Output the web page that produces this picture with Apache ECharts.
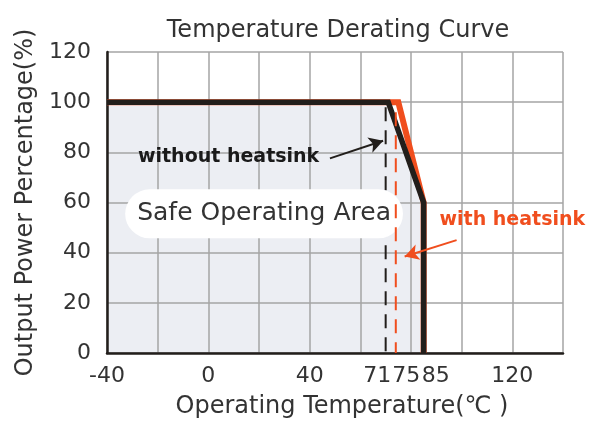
<!DOCTYPE html>
<html>
<head>
<meta charset="utf-8">
<script src="https://cdn.jsdelivr.net/npm/echarts@6/dist/echarts.min.js"></script>
<style>
html,body{margin:0;padding:0;background:#fff;}
#c{width:591px;height:424px;}
</style>
</head>
<body>
<div id="c"></div>
<script>
// ---- data ----
const titleText = 'Temperature Derating Curve';
const xName = 'Operating Temperature(℃ )';
const yName = 'Output Power Percentage(%)';
const xTickLabels = [-40, 0, 40, 71, 75, 85, 120];
const withoutHeatsink = [[-40, 100], [71, 100], [85, 60], [85, 0]];
const withHeatsink = [[-40, 100], [75, 100], [85, 60], [85, 0]];
const markWithout = [[70, 98], [70, 0]];
const markWith = [[74, 96], [74, 0]];
const safeLabelPos = [22, 55.5];
const withoutLabelPos = [8, 78.3];
const withLabelPos = [120, 52.8];
const arrowWithout = [[48, 77.6], [69, 84.6]];
const arrowWith = [[98, 45], [77.5, 38.5]];

const FONT = 'DejaVu Sans';
const ORANGE = '#f04e1e';
const BLACK = '#221e1b';

const shiftRich = {
  a: {fontSize: 22, fontFamily: FONT, color: '#333', padding: [0, 22, 0, 0]},
  b: {fontSize: 22, fontFamily: FONT, color: '#333', padding: [0, 0, 0, 16]},
  c: {fontSize: 22, fontFamily: FONT, color: '#333', padding: [0, 0, 0, 24]},
  n: {fontSize: 22, fontFamily: FONT, color: '#333'}
};
const shiftKey = {71: 'a', 75: 'b', 85: 'c'};

const chart = echarts.init(document.getElementById('c'), null, {renderer: 'canvas'});
chart.setOption({
  animation: false,
  backgroundColor: '#fff',
  title: {
    text: titleText, left: 333, top: 14, textAlign: 'center',
    textStyle: {fontFamily: FONT, fontSize: 24, fontWeight: 'normal', color: '#333'}
  },
  grid: {left: 107, right: 28, top: 52, bottom: 67},
  xAxis: [{
    type: 'value', min: -40, max: 140, interval: 20,
    name: xName, nameLocation: 'middle', nameGap: 42,
    nameTextStyle: {fontFamily: FONT, fontSize: 24, color: '#333', padding: [0, 0, 0, 14]},
    axisLabel: {show: false}, axisTick: {show: false},
    axisLine: {show: true, onZero: false, lineStyle: {color: BLACK, width: 2.5}},
    splitLine: {show: true, lineStyle: {color: '#a5a5a5', width: 1.5}}
  }, {
    type: 'value', position: 'bottom', min: -40, max: 140,
    axisLine: {show: false}, axisTick: {show: false}, splitLine: {show: false},
    axisLabel: {
      customValues: xTickLabels, margin: 12, hideOverlap: false,
      fontFamily: FONT, fontSize: 22, color: '#333',
      formatter: v => '{' + (shiftKey[v] || 'n') + '|' + v + '}',
      rich: shiftRich
    }
  }],
  yAxis: {
    type: 'value', min: 0, max: 120, interval: 20,
    name: yName, nameLocation: 'middle', nameGap: 66,
    nameTextStyle: {fontFamily: FONT, fontSize: 24, color: '#333'},
    axisTick: {show: false},
    axisLine: {show: true, onZero: false, lineStyle: {color: BLACK, width: 2.5}},
    axisLabel: {fontFamily: FONT, fontSize: 22, color: '#333', margin: 16},
    splitLine: {show: true, lineStyle: {color: '#a5a5a5', width: 1.5}}
  },
  series: [
    { // safe operating area fill
      type: 'line', xAxisIndex: 0, data: withoutHeatsink, z: -1, silent: true,
      symbol: 'none', lineStyle: {width: 0}, areaStyle: {color: '#eceef3', opacity: 1}
    },
    { // with heatsink curve
      type: 'line', xAxisIndex: 0, data: withHeatsink, z: 3, symbol: 'none',
      lineStyle: {color: ORANGE, width: 6, join: 'miter'}
    },
    { // without heatsink marker (dashed)
      type: 'line', xAxisIndex: 0, data: markWithout, z: 3, symbol: 'none',
      lineStyle: {color: BLACK, width: 2, type: [14, 9]}
    },
    { // without heatsink curve
      type: 'line', xAxisIndex: 0, data: withoutHeatsink, z: 4, symbol: 'none',
      lineStyle: {color: BLACK, width: 5.5, join: 'miter'},
      markLine: {
        silent: true, symbol: ['none', 'arrow'], symbolSize: [12, 14],
        label: {show: false},
        lineStyle: {color: BLACK, width: 2, type: 'solid'},
        data: [[{coord: arrowWithout[0]}, {coord: arrowWithout[1]}]]
      },
      markPoint: {
        silent: true, symbol: 'circle', symbolSize: 1, itemStyle: {color: 'rgba(0,0,0,0)'},
        data: [
          {coord: safeLabelPos, label: {show: true, position: 'inside', formatter: 'Safe Operating Area',
            fontFamily: FONT, fontSize: 25, color: '#333', backgroundColor: '#fff',
            borderRadius: 26, padding: [12, 12, 12, 12]}},
          {coord: withoutLabelPos, label: {show: true, position: 'inside', formatter: 'without heatsink',
            fontFamily: FONT, fontSize: 19, fontWeight: 'bold', color: '#1a1a1a'}}
        ]
      }
    },
    { // with heatsink marker (dashed), drawn above the label box
      type: 'line', xAxisIndex: 0, data: markWith, z: 6, symbol: 'none',
      lineStyle: {color: ORANGE, width: 2, type: [14, 9]},
      markLine: {
        silent: true, symbol: ['none', 'arrow'], symbolSize: [12, 14],
        label: {show: false},
        lineStyle: {color: ORANGE, width: 2, type: 'solid'},
        data: [[{coord: arrowWith[0]}, {coord: arrowWith[1]}]]
      },
      markPoint: {
        silent: true, symbol: 'circle', symbolSize: 1, itemStyle: {color: 'rgba(0,0,0,0)'},
        data: [
          {coord: withLabelPos, label: {show: true, position: 'inside', formatter: 'with heatsink',
            fontFamily: FONT, fontSize: 19, fontWeight: 'bold', color: ORANGE}}
        ]
      }
    }
  ]
});
</script>
</body>
</html>
